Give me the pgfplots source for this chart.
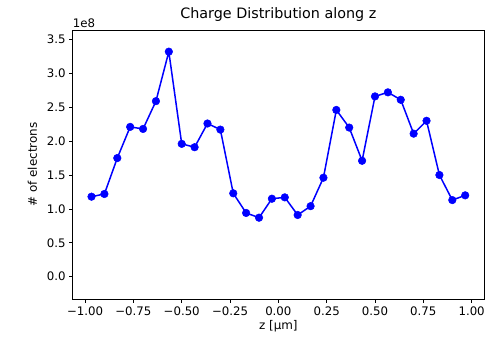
\documentclass[border=0pt]{standalone}
\usepackage{fontspec}
\setmainfont{DejaVu Sans}
\usepackage{pgfplots}
\pgfplotsset{compat=1.18}
\definecolor{mplblue}{RGB}{0,0,255}
\begin{document}
\begin{tikzpicture}
\useasboundingbox (-72.7bp,-45bp) rectangle (412.3bp,299bp);
\begin{axis}[
  name=ax,
  scale only axis,
  width=411.3bp, height=269bp,
  xmin=-1.064, xmax=1.064,
  ymin=-0.33, ymax=3.64,
  xtick={-1,-0.75,-0.5,-0.25,0,0.25,0.5,0.75,1},
  xticklabels={−1.00,−0.75,−0.50,−0.25,0.00,0.25,0.50,0.75,1.00},
  ytick={0,0.5,1,1.5,2,2.5,3,3.5},
  yticklabels={0.0,0.5,1.0,1.5,2.0,2.5,3.0,3.5},
  tick align=outside, xtick pos=bottom, ytick pos=left,
  major tick length=3.5bp,
  tick style={black, line width=0.6pt},
  axis line style={black, line width=0.6pt},
  ticklabel style={font=\fontsize{11.8}{13}\selectfont},
  xticklabel style={yshift=-1bp},
  title style={font=\fontsize{14.4}{16}\selectfont, yshift=-1bp},
  title={Charge Distribution along z},
  xlabel={z [µm]},
  ylabel={\# of electrons},
  xlabel style={font=\fontsize{12}{14}\selectfont, yshift=2bp},
  every axis y label/.style={at={(ticklabel cs:0.5)}, rotate=90, anchor=south, yshift=3bp, font=\fontsize{12}{14}\selectfont},
]
\addplot[color=mplblue, line width=1.5bp, mark=*, mark size=3.8bp,
  mark options={fill=mplblue, draw=mplblue, line width=0.5bp}]
coordinates {
(-0.9667,1.18) (-0.9000,1.22) (-0.8333,1.75) (-0.7667,2.21) (-0.7000,2.18)
(-0.6333,2.59) (-0.5667,3.32) (-0.5000,1.96) (-0.4333,1.91) (-0.3667,2.26)
(-0.3000,2.17) (-0.2333,1.23) (-0.1667,0.94) (-0.1000,0.87) (-0.0333,1.15)
(0.0333,1.17) (0.1000,0.91) (0.1667,1.04) (0.2333,1.46) (0.3000,2.46)
(0.3667,2.20) (0.4333,1.71) (0.5000,2.66) (0.5667,2.72) (0.6333,2.61)
(0.7000,2.11) (0.7667,2.30) (0.8333,1.50) (0.9000,1.13) (0.9667,1.20)
};
\end{axis}
\node[anchor=south west, inner sep=0pt, font=\fontsize{11.8}{13}\selectfont] at ([yshift=2bp]ax.north west) {1e8};
\end{tikzpicture}
\end{document}
